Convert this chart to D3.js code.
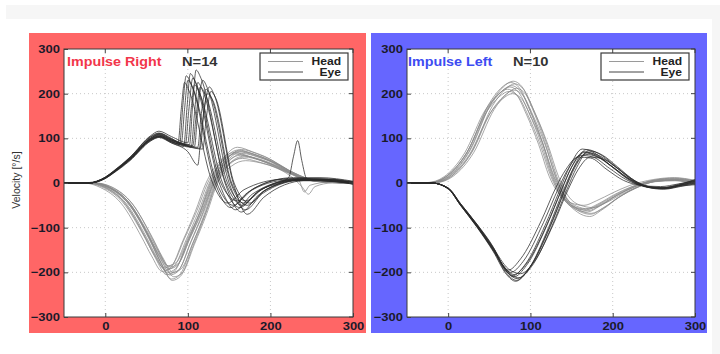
<!DOCTYPE html>
<html><head><meta charset="utf-8">
<script src="https://cdn.jsdelivr.net/npm/d3@7"></script>
<style>body{margin:0;background:#fff;overflow:hidden}</style></head>
<body>
<script>
// ---- axis ticks ----
const xTicks = [0, 100, 200, 300];
const yTicks = [-300, -200, -100, 0, 100, 200, 300];
const gridX = [0, 100, 200];
const gridY = [-200, -100, 100, 200];

// ---- "Impulse Right" (N=14): head velocity traces [time ms, deg/s] ----
const rightHead = [
 [[-50,0],[-24,0],[-4,-9],[21,-43],[46,-116],[58,-157],[71,-190],[81,-183],[96,-124],[111,-62],[124,0],[141,48],[158,65],[176,58],[198,44],[220,25],[245,7],[270,2],[300,0]],
 [[-50,0],[-20,0],[0,-9],[25,-45],[50,-122],[62,-165],[75,-200],[85,-192],[100,-130],[115,-65],[128,0],[145,50],[162,70],[180,62],[200,48],[220,28],[245,8],[270,2],[300,0]],
 [[-50,0],[-17,0],[3,-9],[28,-46],[53,-125],[65,-170],[78,-206],[88,-198],[103,-134],[118,-67],[131,0],[148,54],[165,75],[183,66],[203,50],[223,28],[248,8],[272,2],[300,0]],
 [[-50,0],[-14,0],[6,-10],[31,-49],[56,-133],[68,-180],[81,-218],[91,-209],[106,-142],[121,-71],[134,0],[151,45],[168,60],[186,54],[206,40],[226,22],[250,6],[275,1],[300,0]],
 [[-50,0],[-22,0],[-2,-9],[23,-44],[48,-119],[60,-161],[73,-195],[83,-187],[98,-127],[113,-63],[126,0],[143,55],[160,80],[178,70],[198,55],[218,32],[243,10],[270,3],[300,0]],
 [[-50,0],[-12,0],[8,-9],[33,-47],[58,-128],[70,-173],[83,-210],[93,-202],[108,-137],[123,-68],[136,0],[153,38],[170,50],[188,45],[208,34],[228,18],[252,4],[276,1],[300,0]],
 [[-50,0],[-19,0],[1,-8],[26,-42],[51,-113],[63,-153],[76,-185],[86,-178],[101,-120],[116,-60],[129,0],[146,52],[163,72],[181,64],[201,49],[221,29],[246,9],[270,2],[300,0]],
 [[-50,0],[-16,0],[4,-9],[29,-45],[54,-123],[66,-167],[79,-202],[89,-194],[104,-131],[119,-66],[132,0],[149,42],[166,55],[184,48],[204,36],[224,16],[238,-8],[246,-25],[254,-8],[275,0],[300,0]],
 [[-50,0],[-26,0],[-6,-10],[19,-45],[44,-121],[56,-163],[69,-198],[79,-190],[94,-129],[109,-64],[122,0],[139,50],[156,68],[174,60],[194,46],[216,27],[242,8],[270,2],[300,0]],
 [[-50,0],[-18,0],[2,-9],[27,-44],[52,-117],[64,-159],[77,-192],[87,-185],[102,-125],[117,-62],[130,0],[147,46],[164,62],[182,55],[202,42],[222,24],[247,7],[272,2],[300,0]],
 [[-50,0],[-15,0],[5,-10],[30,-48],[55,-131],[67,-178],[80,-215],[90,-206],[105,-140],[120,-70],[133,0],[150,49],[167,66],[185,58],[205,45],[225,26],[249,8],[274,2],[300,0]],
 [[-50,0],[-21,0],[-1,-9],[24,-46],[49,-125],[61,-169],[74,-205],[84,-197],[99,-133],[114,-67],[127,0],[144,53],[161,74],[179,65],[199,50],[219,29],[244,9],[270,2],[300,0]],
 [[-50,0],[-13,0],[7,-9],[32,-45],[57,-122],[69,-165],[82,-200],[92,-192],[107,-130],[122,-65],[135,0],[152,44],[169,58],[187,51],[207,38],[227,20],[251,5],[276,1],[300,0]],
 [[-50,0],[-17,0],[3,-8],[28,-42],[53,-115],[65,-155],[78,-188],[88,-181],[103,-122],[118,-61],[131,0],[148,50],[165,70],[183,62],[203,48],[223,26],[235,5],[241,-20],[248,-5],[272,2],[300,0]]
];

// ---- "Impulse Right" (N=14): eye velocity traces ----
const rightEye = [
 [[-50,0],[-20,0],[0,12],[10,24],[30,54],[55,98],[65,105],[80,94],[88,88],[92,165],[96,225],[101,208],[130,0],[148,-45],[168,-15],[215,8],[260,8],[300,2]],
 [[-50,0],[-20,0],[0,11],[10,23],[30,52],[55,96],[66,104],[80,92],[90,86],[94,175],[98,240],[104,222],[133,0],[152,-55],[172,-22],[220,6],[260,6],[300,0]],
 [[-50,0],[-20,1],[0,13],[10,26],[30,57],[55,104],[65,112],[80,100],[92,88],[96,165],[100,230],[106,212],[135,0],[155,-50],[175,-18],[222,10],[260,10],[300,3]],
 [[-50,0],[-20,0],[0,10],[10,22],[30,50],[55,94],[65,102],[80,90],[95,82],[99,170],[103,245],[109,226],[138,0],[158,-60],[178,-25],[225,5],[260,5],[300,-2]],
 [[-50,0],[-20,0],[0,12],[10,25],[30,55],[55,100],[66,110],[80,98],[97,86],[101,160],[106,235],[112,214],[140,0],[160,-40],[180,-12],[228,12],[260,12],[300,4]],
 [[-50,0],[-20,0],[0,13],[10,27],[30,58],[55,106],[65,116],[80,104],[100,90],[104,165],[108,220],[114,202],[142,0],[163,-55],[183,-22],[232,8],[265,8],[300,0]],
 [[-50,0],[-20,0],[0,12],[10,25],[30,54],[55,99],[65,107],[80,96],[102,86],[106,180],[110,253],[116,234],[145,0],[165,-65],[185,-28],[232,6],[265,6],[300,-3]],
 [[-50,0],[-20,0],[0,11],[10,24],[30,53],[55,97],[66,104],[80,93],[104,80],[108,155],[112,225],[118,206],[146,0],[166,-50],[186,-18],[235,10],[270,8],[300,0]],
 [[-50,0],[-20,0],[0,12],[10,25],[30,56],[55,101],[65,109],[80,97],[106,84],[110,150],[115,215],[121,199],[148,0],[168,-45],[188,-15],[238,8],[270,6],[300,2]],
 [[-50,0],[-20,0],[0,10],[10,23],[30,52],[55,95],[65,103],[80,92],[108,82],[112,160],[118,230],[124,211],[150,0],[170,-60],[190,-24],[238,6],[270,6],[300,-2]],
 [[-50,0],[-20,0],[0,13],[10,26],[30,57],[55,103],[65,111],[80,99],[112,80],[116,150],[122,210],[128,193],[152,0],[172,-50],[192,-18],[242,8],[270,4],[300,0]],
 [[-50,0],[-20,0],[0,11],[10,24],[30,54],[55,98],[66,106],[80,95],[115,78],[119,150],[126,215],[132,197],[155,0],[172,-70],[192,-32],[242,6],[275,8],[300,0]],
 [[-50,0],[-20,0],[0,12],[10,25],[30,55],[55,100],[65,108],[80,96],[118,76],[122,140],[128,205],[134,189],[156,0],[175,-45],[195,-14],[242,8],[270,4],[300,2]],
 [[-50,0],[-20,0],[0,12],[10,24],[30,53],[55,97],[65,104],[80,90],[100,70],[112,40],[116,110],[124,200],[130,186],[153,0],[170,-40],[190,-14],[222,12],[228,60],[233,95],[238,50],[244,10],[270,5],[300,0]]
];

// ---- "Impulse Left" (N=10): head velocity traces ----
const leftHead = [
 [[-50,0],[-23,1],[-3,14],[22,66],[47,160],[62,193],[74,205],[85,194],[97,152],[112,85],[125,14],[137,-28],[152,-52],[167,-58],[182,-47],[202,-26],[222,-9],[250,6],[275,10],[300,4]],
 [[-50,0],[-20,1],[0,15],[25,70],[50,170],[65,205],[77,218],[88,205],[100,160],[115,90],[128,15],[140,-30],[155,-55],[170,-62],[185,-50],[205,-28],[225,-10],[250,5],[275,8],[300,2]],
 [[-50,0],[-18,1],[2,16],[27,74],[52,178],[67,215],[79,228],[90,215],[102,168],[117,95],[130,16],[142,-35],[157,-65],[172,-75],[187,-60],[207,-33],[227,-12],[250,3],[275,6],[300,0]],
 [[-50,0],[-25,1],[-5,14],[20,67],[45,163],[60,197],[72,210],[83,198],[95,154],[110,86],[123,14],[135,-25],[150,-45],[165,-50],[180,-40],[200,-22],[220,-6],[250,8],[275,12],[300,6]],
 [[-50,0],[-16,1],[4,15],[29,71],[54,173],[69,209],[81,222],[92,209],[104,163],[119,92],[132,15],[144,-33],[159,-60],[174,-68],[189,-55],[209,-30],[229,-11],[252,4],[277,7],[300,0]],
 [[-50,0],[-19,1],[1,14],[26,64],[51,156],[66,188],[78,200],[89,189],[101,147],[116,83],[129,14],[141,-28],[156,-52],[171,-58],[186,-47],[206,-26],[226,-9],[250,6],[275,9],[300,3]],
 [[-50,0],[-21,1],[-1,16],[24,72],[49,175],[64,212],[76,225],[87,212],[99,165],[114,93],[127,15],[139,-32],[154,-58],[169,-65],[184,-52],[204,-29],[224,-10],[250,4],[275,6],[300,-2]],
 [[-50,0],[-14,1],[6,15],[31,68],[56,165],[71,199],[83,212],[94,199],[106,155],[121,87],[134,15],[146,-29],[161,-50],[176,-55],[191,-45],[211,-25],[231,-8],[255,5],[278,8],[300,3]],
 [[-50,0],[-22,1],[-2,15],[23,69],[48,168],[63,202],[75,215],[86,202],[98,158],[113,89],[126,15],[138,-30],[153,-55],[168,-60],[183,-48],[203,-27],[223,-9],[250,6],[275,11],[300,5]],
 [[-50,0],[-17,1],[3,14],[28,66],[53,162],[68,195],[80,208],[91,196],[103,152],[118,85],[131,14],[143,-34],[158,-62],[173,-70],[188,-57],[208,-31],[228,-11],[252,3],[276,5],[300,-3]]
];

// ---- "Impulse Left" (N=10): eye velocity traces ----
const leftEye = [
 [[-50,0],[-20,0],[0,-12],[15,-47],[35,-93],[55,-145],[68,-188],[76,-200],[91,-176],[116,-88],[134,-12],[146,32],[161,62],[176,58],[196,33],[216,8],[236,-6],[260,-10],[280,-6],[300,0]],
 [[-50,0],[-20,0],[0,-12],[15,-48],[35,-95],[55,-148],[70,-195],[80,-210],[95,-185],[120,-95],[138,-15],[150,35],[165,68],[180,60],[200,35],[220,8],[240,-8],[260,-12],[280,-5],[300,2]],
 [[-50,0],[-20,0],[0,-13],[15,-50],[35,-98],[55,-152],[71,-202],[83,-218],[98,-192],[123,-100],[141,-18],[153,36],[168,75],[183,66],[203,38],[223,8],[243,-10],[262,-14],[282,-8],[300,-2]],
 [[-50,0],[-20,0],[0,-11],[15,-46],[35,-92],[55,-144],[67,-185],[73,-195],[88,-170],[113,-85],[131,-10],[143,30],[158,58],[173,56],[193,30],[213,6],[233,-5],[258,-8],[280,-2],[300,5]],
 [[-50,0],[-20,0],[0,-12],[15,-49],[35,-97],[55,-150],[72,-198],[86,-212],[101,-188],[126,-97],[144,-16],[156,34],[171,72],[186,64],[206,36],[226,6],[246,-10],[264,-12],[284,-4],[300,3]],
 [[-50,0],[-20,0],[0,-12],[15,-48],[35,-96],[55,-149],[70,-192],[80,-205],[95,-181],[120,-93],[138,-14],[150,36],[165,70],[180,62],[200,36],[220,9],[240,-7],[260,-11],[280,-3],[300,6]],
 [[-50,0],[-20,0],[0,-13],[15,-50],[35,-99],[55,-154],[71,-205],[82,-220],[97,-195],[122,-100],[140,-17],[152,32],[167,64],[182,58],[202,33],[222,7],[242,-9],[262,-13],[282,-6],[300,0]],
 [[-50,0],[-20,0],[0,-12],[15,-48],[35,-95],[55,-147],[69,-194],[78,-208],[93,-184],[118,-94],[136,-14],[148,38],[163,76],[178,67],[198,38],[218,9],[238,-8],[258,-12],[280,-5],[300,4]],
 [[-50,0],[-20,0],[0,-11],[15,-46],[35,-93],[55,-146],[73,-192],[88,-203],[103,-180],[128,-92],[146,-14],[158,30],[173,58],[188,54],[208,30],[228,4],[248,-10],[266,-12],[285,-6],[300,-4]],
 [[-50,0],[-20,0],[0,-12],[15,-49],[35,-97],[55,-151],[72,-200],[84,-214],[99,-190],[124,-98],[142,-16],[154,35],[169,68],[184,61],[204,35],[224,7],[244,-8],[263,-11],[283,-3],[300,8]]
];

const titles = ["Impulse Right", "Impulse Left"];
const counts = ["N=14", "N=10"];
const legendLabels = ["Head", "Eye"];
const yLabel = "Velocity [°/s]";

// ---- layout ----
const W = 720, H = 354;
const FONT = "'Liberation Sans', Arial, Helvetica, sans-serif";
const svg = d3.select("body").append("svg").attr("width", W).attr("height", H);

svg.append("rect").attr("width", W).attr("height", H).attr("fill", "#fff");
svg.append("rect").attr("x", 6).attr("y", 5).attr("width", W - 6).attr("height", 14).attr("fill", "#f6f6f6");
svg.append("rect").attr("x", 712).attr("y", 19).attr("width", 8).attr("height", H - 19).attr("fill", "#f6f6f6");

const panels = [
  {title: titles[0], n: counts[0], bg: "#ff6666", tc: "#f2364a", head: rightHead, eye: rightEye,
   box: [29, 33, 366, 333], plot: [64, 49, 353, 317], legend: [260, 53, 348, 80], tx: 67, nx: 182, ylab: true},
  {title: titles[1], n: counts[1], bg: "#6666ff", tc: "#3d4cf2", head: leftHead, eye: leftEye,
   box: [371, 33, 707, 333], plot: [407, 49, 695, 317], legend: [601, 53, 689, 80], tx: 408, nx: 513, ylab: false}
];

function stext(g, x, y, str, opts) {
  return g.append("text")
    .attr("transform", `translate(${x},${y}) scale(${opts.sx || 1.12},1)`)
    .attr("font-family", FONT)
    .attr("font-size", opts.size)
    .attr("font-weight", opts.weight || "bold")
    .attr("fill", opts.fill || "#222")
    .attr("text-anchor", opts.anchor || "start")
    .text(str);
}

panels.forEach(p => {
  const g = svg.append("g");
  g.append("rect").attr("x", p.box[0]).attr("y", p.box[1])
    .attr("width", p.box[2] - p.box[0]).attr("height", p.box[3] - p.box[1]).attr("fill", p.bg);
  const [x0, y0, x1, y1] = p.plot;
  g.append("rect").attr("x", x0).attr("y", y0).attr("width", x1 - x0).attr("height", y1 - y0).attr("fill", "#fff");

  const x = d3.scaleLinear().domain([-50, 300]).range([x0, x1]);
  const y = d3.scaleLinear().domain([-300, 300]).range([y1, y0]);

  // grid
  g.selectAll(null).data(gridX).join("line")
    .attr("x1", d => x(d)).attr("x2", d => x(d)).attr("y1", y0).attr("y2", y1)
    .attr("stroke", "#c8c8c8").attr("stroke-width", 1).attr("stroke-dasharray", "1,3");
  g.selectAll(null).data(gridY).join("line")
    .attr("y1", d => y(d)).attr("y2", d => y(d)).attr("x1", x0).attr("x2", x1)
    .attr("stroke", "#c8c8c8").attr("stroke-width", 1).attr("stroke-dasharray", "1,3");

  const line = d3.line().x(d => x(d[0])).y(d => y(d[1])).curve(d3.curveMonotoneX);
  const clipId = "clip" + p.tx;
  g.append("clipPath").attr("id", clipId).append("rect").attr("x", x0).attr("y", y0).attr("width", x1 - x0).attr("height", y1 - y0);
  const lines = g.append("g").attr("clip-path", `url(#${clipId})`);
  lines.selectAll(".h").data(p.head).join("path").attr("class", "h")
    .attr("d", line).attr("fill", "none").attr("stroke", "#8a8a8a").attr("stroke-opacity", 0.75).attr("stroke-width", 1);
  lines.selectAll(".e").data(p.eye).join("path").attr("class", "e")
    .attr("d", line).attr("fill", "none").attr("stroke", "#2a2a2a").attr("stroke-opacity", 0.75).attr("stroke-width", 1);

  // axes
  const ax = g.append("g").attr("transform", `translate(0,${y1})`)
    .call(d3.axisBottom(x).tickValues(xTicks).tickSize(-4).tickFormat(d3.format("d")));
  const ay = g.append("g").attr("transform", `translate(${x0},0)`)
    .call(d3.axisLeft(y).tickValues(yTicks).tickSize(-4).tickFormat(d => d < 0 ? "\u2212" + (-d) : String(d)));
  [ax, ay].forEach(a => {
    a.select(".domain").remove();
    a.selectAll(".tick line").attr("stroke", "#444");
    a.selectAll(".tick text").attr("font-family", FONT).attr("font-size", 11).attr("fill", "#1a1a2a")
      .attr("font-weight", "bold").attr("x", 0).attr("y", 0);
  });
  ay.selectAll(".tick text").attr("transform", "translate(-4,0) scale(1.18,1)");
  ax.selectAll(".tick text").attr("transform", "translate(0,5) scale(1.18,1)");
  // top/right ticks
  g.selectAll(null).data(xTicks).join("line").attr("x1", d => x(d)).attr("x2", d => x(d)).attr("y1", y0).attr("y2", y0 + 4).attr("stroke", "#444");
  g.selectAll(null).data(yTicks).join("line").attr("y1", d => y(d)).attr("y2", d => y(d)).attr("x1", x1).attr("x2", x1 - 4).attr("stroke", "#444");
  // frame
  g.append("rect").attr("x", x0).attr("y", y0).attr("width", x1 - x0).attr("height", y1 - y0)
    .attr("fill", "none").attr("stroke", "#3a3a3a").attr("stroke-width", 1);

  // title
  stext(g, p.tx, 66, p.title, {size: 13, fill: p.tc, sx: 1.1});
  stext(g, p.nx, 66, p.n, {size: 13, fill: "#333", sx: 1.13});

  // legend
  const [lx0, ly0, lx1, ly1] = p.legend;
  g.append("rect").attr("x", lx0).attr("y", ly0).attr("width", lx1 - lx0).attr("height", ly1 - ly0)
    .attr("fill", "#fff").attr("stroke", "#3a3a3a").attr("stroke-width", 1.2);
  const legColors = ["#9a9a9a", "#444"];
  legendLabels.forEach((lab, i) => {
    const ly = ly0 + 8.5 + i * 10.5;
    g.append("line").attr("x1", lx0 + 8).attr("x2", lx0 + 43).attr("y1", ly).attr("y2", ly).attr("stroke", legColors[i]).attr("stroke-width", 1);
    stext(g, lx1 - 7, ly + 3.8, lab, {size: 10.5, fill: "#222", anchor: "end", sx: 1.15});
  });

  if (p.ylab) {
    g.append("text").attr("transform", `translate(20,${(y0 + y1) / 2 - 3}) rotate(-90)`)
      .attr("text-anchor", "middle").attr("font-family", FONT).attr("font-size", 10.5).attr("fill", "#333")
      .text(yLabel);
  }
});
</script>
</body></html>
